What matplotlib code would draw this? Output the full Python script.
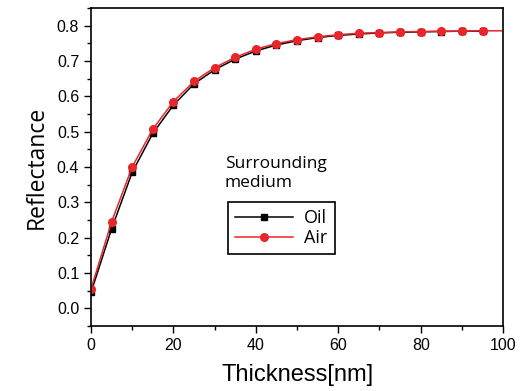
import matplotlib
matplotlib.use("Agg")
import matplotlib.pyplot as plt
from matplotlib.ticker import MultipleLocator

thickness = [0, 5, 10, 15, 20, 25, 30, 35, 40, 45, 50, 55, 60, 65, 70, 75, 80, 85, 90, 95]
oil = [0.045, 0.225, 0.385, 0.495, 0.575, 0.635, 0.675, 0.705, 0.728, 0.745,
       0.757, 0.766, 0.772, 0.776, 0.779, 0.781, 0.782, 0.783, 0.784, 0.784]

thickness_air = [0, 5, 10, 15, 20, 25, 30, 35, 40, 45, 50, 55, 60, 65, 70, 75, 80, 85, 90, 95, 100]
air = [0.055, 0.245, 0.400, 0.507, 0.585, 0.642, 0.681, 0.710, 0.733, 0.749,
       0.760, 0.768, 0.774, 0.778, 0.780, 0.782, 0.783, 0.784, 0.784, 0.785, 0.785]

fig = plt.figure(figsize=(5.23, 3.91), dpi=100)
ax = fig.add_axes([0.174, 0.166, 0.788, 0.814])

ax.plot(thickness, oil, color="black", marker="s", markersize=4.5, lw=1.1, label="Oil")
# last air point only carries the line to the frame, no marker there
ax.plot(thickness_air, air, color="#e8262b", marker="o", markersize=5.5, lw=1.1,
        markevery=list(range(len(air) - 1)), label="Air")

ax.set_xlim(0, 100)
ax.set_ylim(-0.05, 0.85)
ax.xaxis.set_major_locator(MultipleLocator(20))
ax.xaxis.set_minor_locator(MultipleLocator(10))
ax.yaxis.set_minor_locator(MultipleLocator(0.05))
ax.set_yticks([0, 0.1, 0.2, 0.3, 0.4, 0.5, 0.6, 0.7, 0.8])
ax.yaxis.set_major_formatter(plt.FormatStrFormatter("%.1f"))
ax.tick_params(which="both", direction="out", width=1, top=False, right=False)
ax.tick_params(which="major", length=5, labelsize=11.5)
ax.tick_params(which="minor", length=3)
for lab in ax.get_xticklabels() + ax.get_yticklabels():
    lab.set_family("Liberation Sans")
for s in ax.spines.values():
    s.set_linewidth(1.2)

ax.set_xlabel("Thickness[nm]", fontsize=17, family="Liberation Sans", labelpad=8)
ax.set_ylabel("Reflectance", fontsize=16.5, family="Open Sans", labelpad=6)

ax.text(0.325, 0.48, "Surrounding\nmedium", transform=ax.transAxes,
        fontsize=12.5, family="Open Sans", linespacing=1.25, va="center")

leg = ax.legend(loc="upper left", bbox_to_anchor=(0.333, 0.39), fancybox=False,
                edgecolor="black", framealpha=1, handlelength=3.2,
                prop={"family": "Open Sans", "size": 13}, borderpad=0.4,
                borderaxespad=0, labelspacing=0.1, handletextpad=0.6)
leg.get_frame().set_linewidth(1.2)

fig.savefig("out.png", dpi=100)
